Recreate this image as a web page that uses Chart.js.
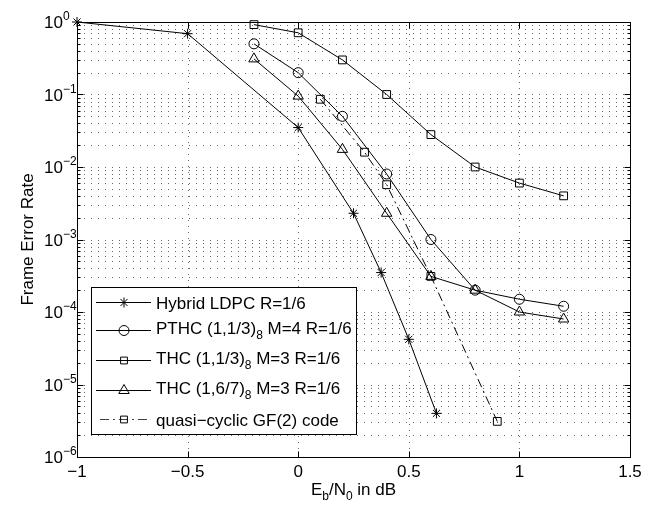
<!DOCTYPE html>
<html><head><meta charset="utf-8">
<script src="https://cdn.jsdelivr.net/npm/chart.js@4"></script>
<style>html,body{margin:0;padding:0;background:#fff}</style>
</head><body>
<canvas id="c" width="654" height="506"></canvas>
<script>
// ---- data ----
const xHybrid = [-1, -0.5, 0, 0.25, 0.375, 0.5, 0.625];
const yHybrid = [1, 0.69, 0.035, 2.3e-3, 3.5e-4, 4.2e-5, 4e-6];
const xTHC = [-0.2, 0, 0.2, 0.4, 0.6, 0.8, 1.0, 1.2];
const yPTHC = [0.5, 0.2, 0.05, 0.008, 1.0e-3, 2.0e-4, 1.5e-4, 1.2e-4];
const yTHC13 = [0.92, 0.71, 0.3, 0.1, 0.028, 0.01, 0.006, 0.004];
const yTHC167 = [0.31, 0.095, 0.0175, 0.0023, 3.1e-4, 2.0e-4, 1.0e-4, 8.0e-5];
const xQC = [0.1, 0.3, 0.4, 0.6, 0.9];
const yQC = [0.086, 0.016, 0.0057, 3.1e-4, 3.1e-6];
const xTicks = [-1, -0.5, 0, 0.5, 1, 1.5];
const xTickLabels = ['\u22121', '\u22120.5', '0', '0.5', '1', '1.5'];
const yDecades = [0, -1, -2, -3, -4, -5, -6];
const seriesNames = [
  [['Hybrid LDPC R=1/6', 0]],
  [['PTHC (1,1/3)', 0], ['8', 1], [' M=4 R=1/6', 0]],
  [['THC (1,1/3)', 0], ['8', 1], [' M=3 R=1/6', 0]],
  [['THC (1,6/7)', 0], ['8', 1], [' M=3 R=1/6', 0]],
  [['quasi\u2212cyclic GF(2) code', 0]]
];

const FONT = '"Liberation Sans", Arial, Helvetica, sans-serif';
const pts = (xs, ys) => xs.map((x, i) => ({x: x, y: ys[i]}));
const styles = [
  {pointStyle: 'star', pointRadius: 5, borderDash: []},
  {pointStyle: 'circle', pointRadius: 5, borderDash: []},
  {pointStyle: 'rect', pointRadius: 5.5, borderDash: []},
  {pointStyle: 'triangle', pointRadius: 6, borderDash: []},
  {pointStyle: 'rect', pointRadius: 5.5, borderDash: [9, 4, 2, 4]}
];
const seriesData = [pts(xHybrid, yHybrid), pts(xTHC, yPTHC), pts(xTHC, yTHC13), pts(xTHC, yTHC167), pts(xQC, yQC)];

const datasets = seriesData.map((d, i) => ({
  data: d,
  borderColor: '#000',
  borderWidth: 1,
  borderDash: styles[i].borderDash,
  pointStyle: styles[i].pointStyle,
  pointRadius: styles[i].pointRadius,
  pointBorderColor: '#000',
  pointBackgroundColor: 'rgba(0,0,0,0)',
  pointBorderWidth: 1,
  fill: false,
  tension: 0,
  clip: false
}));

function drawRich(ctx, parts, x, y, big, small, subDy) {
  let cx = x;
  parts.forEach(p => {
    ctx.font = (p[1] ? small : big) + 'px ' + FONT;
    ctx.fillText(p[0], cx, y + (p[1] ? subDy : 0));
    cx += ctx.measureText(p[0]).width;
  });
  return cx - x;
}
function richWidth(ctx, parts, big, small) {
  let w = 0;
  parts.forEach(p => { ctx.font = (p[1] ? small : big) + 'px ' + FONT; w += ctx.measureText(p[0]).width; });
  return w;
}

const decor = {
  id: 'decor',
  beforeDatasetsDraw(chart) {
    const ctx = chart.ctx, a = chart.chartArea, xs = chart.scales.x, ys = chart.scales.y;
    ctx.save();
    ctx.strokeStyle = 'rgba(0,0,0,0.6)';
    ctx.lineWidth = 1;
    ctx.setLineDash([1, 6]);
    yDecades.forEach(d => {
      for (let m = 1; m <= 9; m++) {
        const v = m * Math.pow(10, d);
        if (v > 1.0000001) break;
        const y = Math.round(ys.getPixelForValue(v)) + 0.5;
        ctx.beginPath(); ctx.moveTo(a.left, y); ctx.lineTo(a.right, y); ctx.stroke();
      }
    });
    ctx.setLineDash([1, 5]);
    xTicks.forEach(t => {
      const x = Math.round(xs.getPixelForValue(t)) + 0.5;
      ctx.beginPath(); ctx.moveTo(x, a.top); ctx.lineTo(x, a.bottom); ctx.stroke();
    });
    ctx.restore();
  },
  afterDatasetsDraw(chart) {
    const ctx = chart.ctx, a = chart.chartArea, xs = chart.scales.x, ys = chart.scales.y;
    ctx.save();
    ctx.setLineDash([]);
    ctx.strokeStyle = '#000';
    ctx.lineWidth = 1;
    const L = Math.round(a.left) + 0.5, R = Math.round(a.right) + 0.5, T = Math.round(a.top) + 0.5, B = Math.round(a.bottom) + 0.5;
    ctx.strokeRect(L, T, R - L, B - T);
    // ticks
    ctx.beginPath();
    xTicks.forEach(t => {
      const x = Math.round(xs.getPixelForValue(t)) + 0.5;
      ctx.moveTo(x, B); ctx.lineTo(x, B - 6);
      ctx.moveTo(x, T); ctx.lineTo(x, T + 6);
    });
    yDecades.forEach(d => {
      for (let m = 1; m <= 9; m++) {
        const v = m * Math.pow(10, d);
        if (v > 1.0000001) break;
        const y = Math.round(ys.getPixelForValue(v)) + 0.5;
        const len = m === 1 ? 6 : 3;
        ctx.moveTo(L, y); ctx.lineTo(L + len, y);
        ctx.moveTo(R, y); ctx.lineTo(R - len, y);
      }
    });
    ctx.stroke();
    // tick labels
    ctx.fillStyle = '#000';
    ctx.textBaseline = 'alphabetic';
    ctx.font = '17px ' + FONT;
    ctx.textAlign = 'center';
    xTicks.forEach((t, i) => {
      ctx.fillText(xTickLabels[i], xs.getPixelForValue(t), 477);
    });
    yDecades.forEach(d => {
      const y = ys.getPixelForValue(Math.pow(10, d));
      ctx.font = '17px ' + FONT;
      ctx.textAlign = 'right';
      ctx.fillText('10', 63, y + 6);
      ctx.font = '12px ' + FONT;
      ctx.textAlign = 'left';
      ctx.fillText(d === 0 ? '0' : '\u2212' + Math.abs(d), 63, y - 2);
    });
    // x title
    const xt = [['E', 0], ['b', 1], ['/N', 0], ['0', 1], [' in dB', 0]];
    const w = richWidth(ctx, xt, 17, 12);
    ctx.textAlign = 'left';
    drawRich(ctx, xt, (a.left + a.right) / 2 - w / 2, 495, 17, 12, 5);
    // y title
    ctx.save();
    ctx.translate(33, (a.top + a.bottom) / 2);
    ctx.rotate(-Math.PI / 2);
    ctx.textAlign = 'center';
    ctx.font = '17px ' + FONT;
    ctx.fillText('Frame Error Rate', 0, 0);
    ctx.restore();
    // legend
    const bx = 91.5, by = 287.5, bw = 265, bh = 147;
    ctx.fillStyle = '#fff';
    ctx.fillRect(bx, by, bw, bh);
    ctx.strokeStyle = '#000';
    ctx.strokeRect(bx, by, bw, bh);
    const rowY = [302.5, 330.5, 360.5, 390.5, 419.5];
    const baseOff = [6, 3.5, 3.5, 3.5, 6];
    seriesNames.forEach((parts, i) => {
      const y = rowY[i];
      ctx.save();
      ctx.strokeStyle = '#000';
      ctx.lineWidth = 1;
      if (i === 4) { ctx.setLineDash([9, 4, 2, 4]); ctx.lineDashOffset = 15; ctx.strokeStyle = 'rgba(0,0,0,0.75)'; }
      ctx.beginPath(); ctx.moveTo(96, y); ctx.lineTo(151, y); ctx.stroke();
      ctx.setLineDash([]);
      ctx.strokeStyle = '#000';
      ctx.fillStyle = 'rgba(0,0,0,0)';
      Chart.helpers.drawPoint(ctx, {pointStyle: styles[i].pointStyle, radius: i >= 2 && styles[i].pointStyle === 'rect' ? 4.8 : styles[i].pointRadius, borderWidth: 1, rotation: 0}, 124, y);
      ctx.restore();
      ctx.fillStyle = '#000';
      ctx.textAlign = 'left';
      drawRich(ctx, parts, 156, y + baseOff[i], 17, 12, 5);
    });
    ctx.restore();
  }
};

new Chart(document.getElementById('c'), {
  type: 'line',
  data: {datasets: datasets},
  options: {
    responsive: false,
    animation: false,
    devicePixelRatio: 1,
    layout: {padding: {left: 77, right: 24, top: 22, bottom: 49}},
    plugins: {legend: {display: false}, tooltip: {enabled: false}},
    scales: {
      x: {type: 'linear', min: -1, max: 1.5, display: false},
      y: {type: 'logarithmic', min: 1e-6, max: 1, display: false}
    }
  },
  plugins: [decor]
});
</script>
</body></html>
